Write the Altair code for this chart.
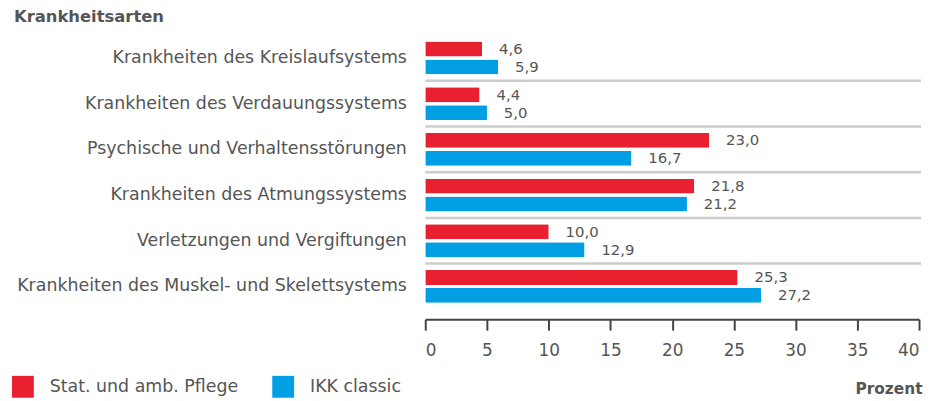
import altair as alt
import pandas as pd

categories = [
    "Krankheiten des Kreislaufsystems",
    "Krankheiten des Verdauungssystems",
    "Psychische und Verhaltensstörungen",
    "Krankheiten des Atmungssystems",
    "Verletzungen und Vergiftungen",
    "Krankheiten des Muskel- und Skelettsystems",
]
series = ["Stat. und amb. Pflege", "IKK classic"]
pflege = [4.6, 4.4, 23.0, 21.8, 10.0, 25.3]
ikk = [5.9, 5.0, 16.7, 21.2, 12.9, 27.2]
x_ticks = [0, 5, 10, 15, 20, 25, 30, 35, 40]

RED = "#e8202f"
BLUE = "#009fe3"
GRAY = "#555555"
FONT = "DejaVu Sans"

rows = []
for c, a, b in zip(categories, pflege, ikk):
    rows.append({"cat": c, "series": series[0], "value": a})
    rows.append({"cat": c, "series": series[1], "value": b})
df = pd.DataFrame(rows)
df["label"] = df["value"].map(lambda v: f"{v:.1f}".replace(".", ","))

sep = pd.DataFrame({"cat": categories[1:]})

W, H = 497, 276

y_enc = alt.Y("cat:N", sort=categories, title=None,
              scale=alt.Scale(paddingInner=0, paddingOuter=0),
              axis=alt.Axis(domain=False, ticks=False, labelFontSize=17.5,
                            labelColor=GRAY, labelFont=FONT, labelPadding=19,
                            labelLimit=600))
yoff = alt.YOffset("series:N", sort=series,
                   scale=alt.Scale(paddingInner=1/6, paddingOuter=0.36))
x_enc = alt.X("value:Q", scale=alt.Scale(domain=[0, 40], nice=False),
              title="Prozent",
              axis=alt.Axis(values=x_ticks, grid=False, offset=10,
                            domainColor="#444", domainWidth=2,
                            tickColor="#444", tickWidth=2, tickSize=11,
                            labelFontSize=17, labelColor=GRAY, labelFont=FONT,
                            labelPadding=12, titleFont=FONT, titleFontSize=15.5,
                            titleFontWeight="bold", titleColor=GRAY,
                            titleAnchor="end", titleAlign="right",
                            titleX=W + 3, titleY=75, titleBaseline="alphabetic"))

bars = alt.Chart(df).mark_bar(cornerRadius=1).encode(
    y=y_enc, yOffset=yoff, x=x_enc,
    color=alt.Color("series:N", sort=series, title=None,
                    scale=alt.Scale(domain=series, range=[RED, BLUE]),
                    legend=alt.Legend(orient="none", legendX=-416, legendY=343,
                                      direction="horizontal", symbolType="square",
                                      symbolSize=484, symbolStrokeWidth=0,
                                      symbolOpacity=1,
                                      labelFontSize=17.5, labelColor=GRAY,
                                      labelFont=FONT, labelOffset=16,
                                      labelLimit=400,
                                      columnPadding=34, padding=0)),
)

texts = alt.Chart(df).mark_text(align="left", baseline="middle", dx=17,
                                fontSize=15, color=GRAY, font=FONT).encode(
    y=alt.Y("cat:N", sort=categories), yOffset=yoff,
    x=alt.X("value:Q"), text="label:N")

rules = alt.Chart(sep).mark_rule(color="#cccccc", strokeWidth=2.5).encode(
    y=alt.Y("cat:N", sort=categories, bandPosition=0),
    x=alt.value(0), x2=alt.value(W + 2))

chart = alt.layer(rules, bars, texts).properties(
    width=W, height=H,
    title=alt.TitleParams("Krankheitsarten", anchor="start", frame="group",
                          dx=-414, dy=15, fontSize=16.5, fontWeight="bold",
                          color=GRAY, font=FONT, offset=12, limit=400,
                          baseline="alphabetic"),
    autosize=alt.AutoSizeParams(type="none"),
    padding={"left": 420, "top": 26, "right": 4, "bottom": 88},
).configure_view(stroke=None)

chart.save("out.html", embed_options={"renderer": "svg", "actions": False})
